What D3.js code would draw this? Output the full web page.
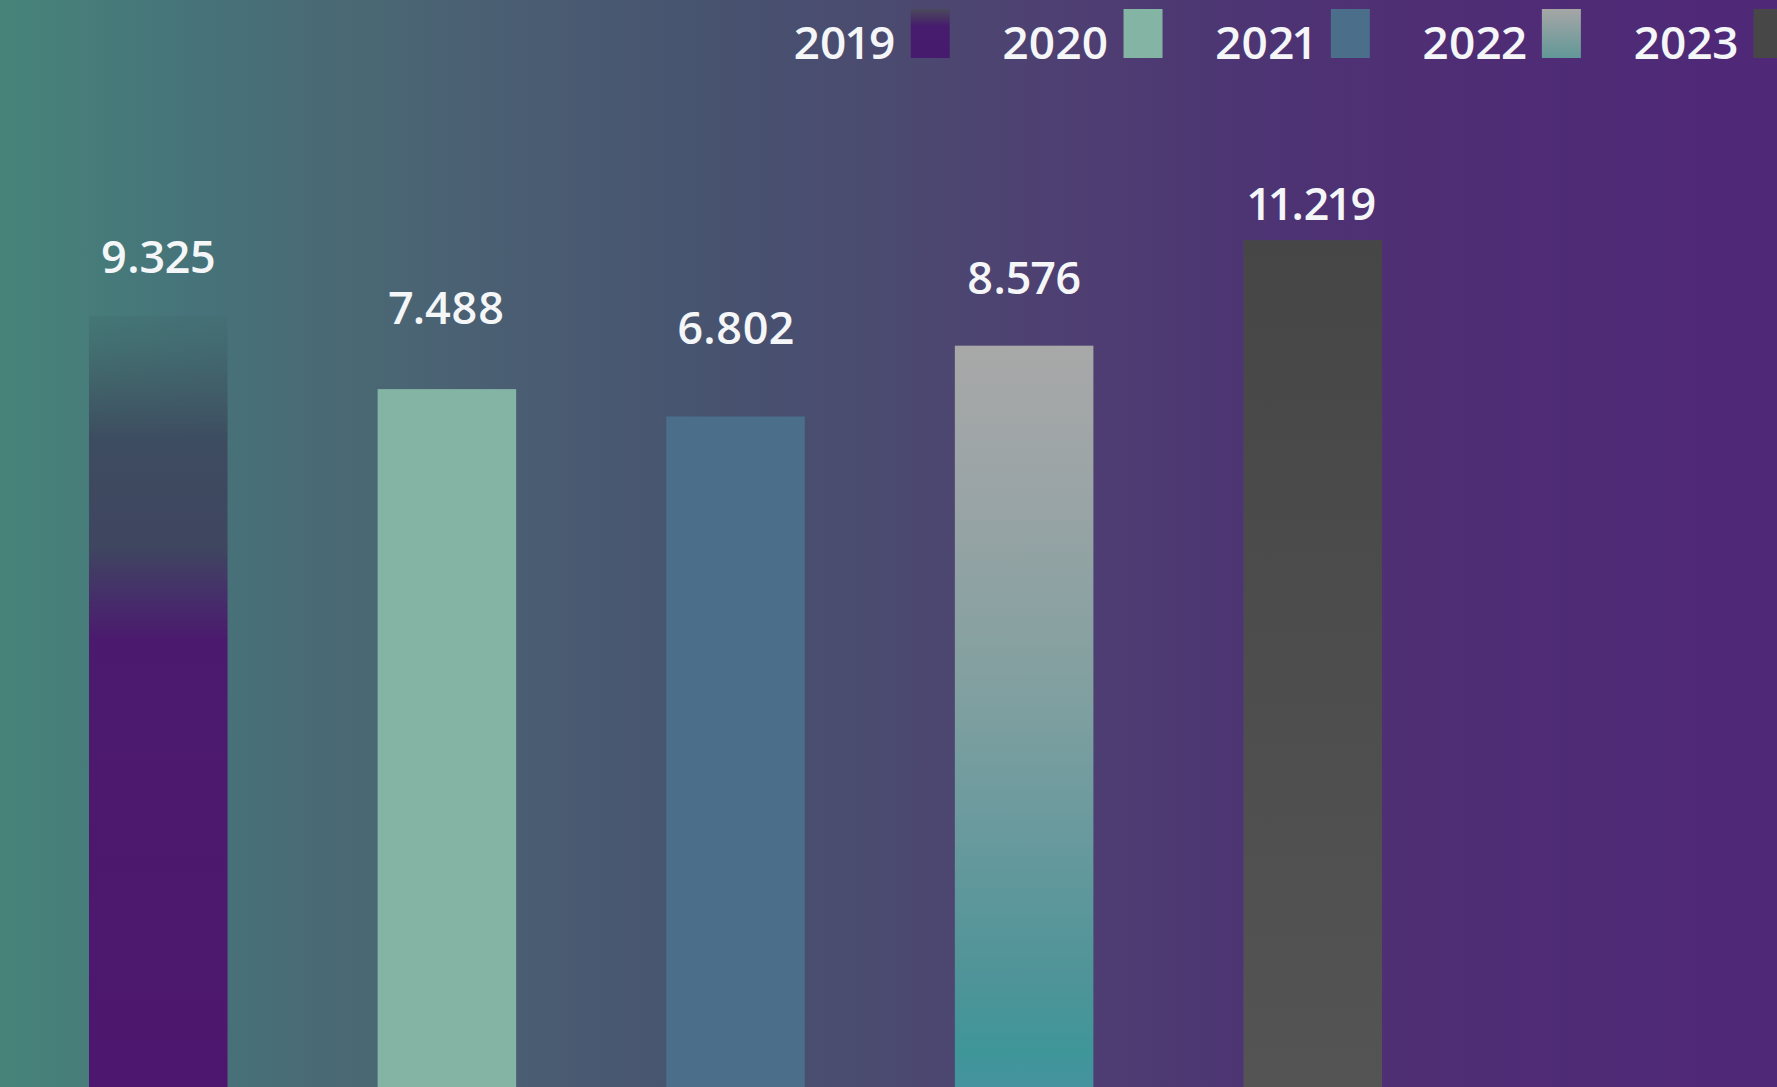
<!DOCTYPE html>
<html>
<head>
<meta charset="utf-8">
<script src="https://cdn.jsdelivr.net/npm/d3@7"></script>
<style>
    html, body { margin: 0; padding: 0; overflow: hidden; }
    svg { display: block; }
    text { font-family: "Open Sans", "Noto Sans", sans-serif; font-weight: 600; fill: #f4f6f8; font-variant-numeric: proportional-nums; }
</style>
</head>
<body>
<svg id="chart"></svg>
<script>
// 데이터
const years = ["2019", "2020", "2021", "2022", "2023"];
const values = [9.325, 7.488, 6.802, 8.576, 11.219];
const valueLabels = ["9.325", "7.488", "6.802", "8.576", "11.219"];

class BarChart {
    constructor(svgId) {
        this.width = 1777;
        this.height = 1087;
        this.svg = d3.select(svgId)
            .attr("width", this.width)
            .attr("height", this.height);
        this.defs = this.svg.append("defs");
    };

    init() {
        // 연도 위치
        this.xScale = d3.scaleBand().domain(years).range([89, 1382]).paddingInner(0.52).paddingOuter(0);
        // 막대 높이 (아래쪽은 잘려 있음)
        this.yScale = d3.scaleLinear().domain([0, 12]).range([688, 209]);
        // 값 라벨 위치
        this.labelScale = d3.scaleLinear().domain([0, 12]).range([534, 198]);

        this._makeGradients();
        this._drawBackground();
        this._drawBars();
        this._drawLabels();
        this._drawLegend();
    };

    _gradient(id, stops, horizontal) {
        const g = this.defs.append("linearGradient")
            .attr("id", id)
            .attr("x1", 0).attr("y1", 0)
            .attr("x2", horizontal ? 1 : 0).attr("y2", horizontal ? 0 : 1);
        g.selectAll("stop")
            .data(stops)
            .join("stop")
            .attr("offset", d => d[0])
            .attr("stop-color", d => d[1])
            .attr("stop-opacity", d => d[2] === undefined ? 1 : d[2]);
    };

    _makeGradients() {
        this._gradient("bg", [
            [0, "#478479"], [0.1, "#46747a"], [0.2, "#4a6874"], [0.3, "#4a5c72"],
            [0.4, "#47536f"], [0.5, "#4b4a70"], [0.6, "#4e3f72"], [0.7, "#4d3573"],
            [0.8, "#4f2e74"], [1, "#4f2878"]
        ], true);
        this._gradient("g2019", [
            [0, "#3f6a6c", 0.3], [0.08, "#3f5a64", 0.7], [0.16, "#3d4c60"], [0.3, "#3f4660"],
            [0.36, "#45306a"], [0.42, "#4b1a6e"], [1, "#4e176f"]
        ]);
        this._gradient("g2022", [
            [0, "#a8a8a8"], [0.2, "#9aa4a6"], [0.45, "#83a0a0"], [0.65, "#6a9a9e"],
            [0.85, "#4f9498"], [0.95, "#3f9699"], [1, "#45939e"]
        ]);
        this._gradient("g2023", [
            [0, "#464646"], [1, "#545454"]
        ]);
        this._gradient("l2019", [
            [0, "#4a4a5a"], [0.35, "#471c6e"], [1, "#461a6e"]
        ]);
        this._gradient("l2022", [
            [0, "#a6a6a6"], [1, "#629898"]
        ]);

        this.barFill = d3.scaleOrdinal().domain(years)
            .range(["url(#g2019)", "#84b5a4", "#4b6e8a", "url(#g2022)", "url(#g2023)"]);
        this.legendFill = d3.scaleOrdinal().domain(years)
            .range(["url(#l2019)", "#84b5a4", "#4b6e8a", "url(#l2022)", "#474747"]);
    };

    _drawBackground() {
        this.svg.append("rect")
            .attr("width", this.width)
            .attr("height", this.height)
            .style("fill", "url(#bg)");
    };

    _drawBars() {
        this.svg.append("g").selectAll("rect.bar")
            .data(years)
            .join("rect")
            .attr("class", "bar")
            .attr("x", d => this.xScale(d))
            .attr("y", (d, i) => this.yScale(values[i]))
            .attr("width", this.xScale.bandwidth())
            .attr("height", (d, i) => this.height - this.yScale(values[i]))
            .style("fill", this.barFill);
    };

    _drawLabels() {
        this.svg.append("g").selectAll("text.value")
            .data(years)
            .join("text")
            .attr("class", "value")
            .attr("x", d => this.xScale(d) + this.xScale.bandwidth() / 2)
            .attr("y", (d, i) => this.labelScale(values[i]))
            .attr("text-anchor", "middle")
            .style("font-size", "45px")
            .text((d, i) => valueLabels[i]);
    };

    _drawLegend() {
        // 범례: 글자 다음에 색 상자
        const legend = this.svg.append("g");
        let x = 794;
        years.forEach(year => {
            const t = legend.append("text")
                .attr("x", x)
                .attr("y", 59)
                .style("font-size", "46px")
                .text(year);
            const w = t.node().getComputedTextLength();
            legend.append("rect")
                .attr("x", x + w + 15)
                .attr("y", 9)
                .attr("width", 39)
                .attr("height", 49)
                .style("fill", this.legendFill(year));
            x += w + 15 + 39 + 53;
        });
    };
};

const chart = new BarChart("#chart");
chart.init();
</script>
</body>
</html>
